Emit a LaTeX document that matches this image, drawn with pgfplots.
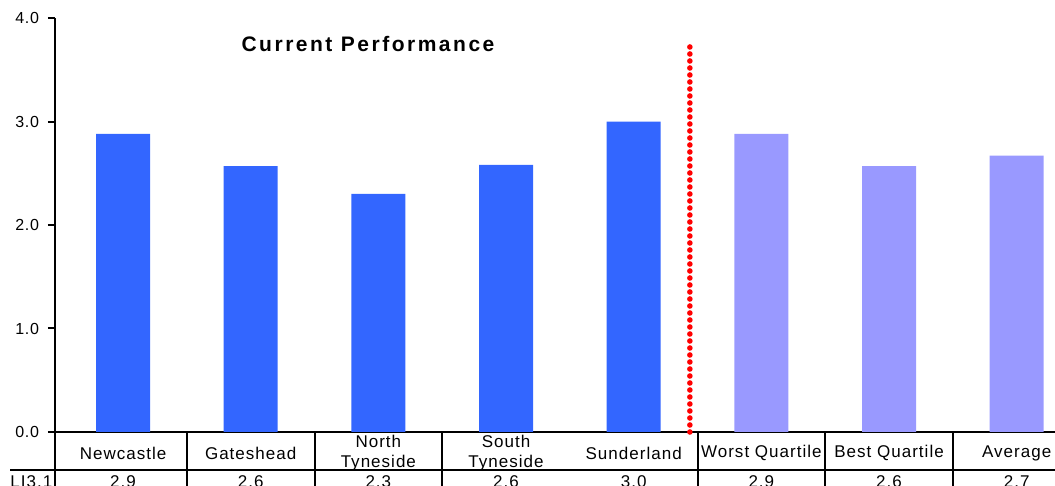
\documentclass[border=0pt]{standalone}
\usepackage{fontspec}
\setmainfont{Liberation Sans}
\usepackage{pgfplots}
\pgfplotsset{compat=1.18}
\definecolor{barblue}{HTML}{3366FF}
\definecolor{barlight}{HTML}{9999FF}
\newcommand{\tabfont}{\fontsize{8.5}{10}\selectfont\addfontfeature{LetterSpace=6}}
\begin{document}
\begin{tikzpicture}
\begin{axis}[
  at={(27.5pt,27pt)}, anchor=south west,
  scale only axis, width=500pt, height=207pt,
  xmin=-0.533, xmax=7.30, ymin=0, ymax=4,
  axis x line=bottom, axis y line=left,
  axis line style={line width=1pt, -},
  clip=false,
  ytick={0,1,2,3,4},
  yticklabel style={font=\fontsize{8}{9}\selectfont\addfontfeature{LetterSpace=4}, xshift=-1pt,
    /pgf/number format/fixed, /pgf/number format/fixed zerofill,
    /pgf/number format/precision=1, /pgf/number format/assume math mode=true},
  tick align=outside, major tick length=3.5pt,
  y tick style={line width=1pt, black},
  xtick={0,1,2,3,4,5,6,7},
  x tick style={draw=none},
  xticklabels={Newcastle, Gateshead, {North\\Tyneside}, {South\\Tyneside}, Sunderland, {Worst Quartile}, {Best Quartile}, Average},
  xticklabel style={anchor=center, yshift=-7pt, align=center, font=\tabfont},
]
\addplot[ybar, bar width=27pt, bar shift=0pt, fill=barblue, draw=none] coordinates {
  (0,2.88) (1,2.57) (2,2.30) (3,2.58) (4,3.00)
};
\addplot[ybar, bar width=27pt, bar shift=0pt, fill=barlight, draw=none] coordinates {
  (5,2.88) (6,2.57) (7,2.67)
};
\addplot[forget plot, draw=none, mark=none, nodes near coords, point meta=explicit symbolic,
  every node near coord/.append style={anchor=base, yshift=-28pt, font=\tabfont, inner sep=0pt}]
  coordinates {
  (0,0) [2.9] (1,0) [2.6] (2,0) [2.3] (3,0) [2.6] (4,0) [3.0] (5,0) [2.9] (6,0) [2.6] (7,0) [2.7]
};
\addplot[forget plot, red, line width=2.8pt, dash pattern=on 0pt off 3.5pt, line cap=round] coordinates {
  (4.44,0) (4.44,3.73)
};
% table grid
\draw[line width=1pt] (axis cs:-0.533,0) -- ++(0pt,-32pt);
\draw[line width=1pt] (axis cs:0.5,0) -- ++(0pt,-32pt);
\draw[line width=1pt] (axis cs:1.5,0) -- ++(0pt,-32pt);
\draw[line width=1pt] (axis cs:2.5,0) -- ++(0pt,-32pt);
\draw[line width=1pt] (axis cs:4.5,0) -- ++(0pt,-32pt);
\draw[line width=1pt] (axis cs:5.5,0) -- ++(0pt,-32pt);
\draw[line width=1pt] (axis cs:6.5,0) -- ++(0pt,-32pt);
\end{axis}
\draw[line width=1pt] (5pt,8pt) -- (530pt,8pt);
\node[anchor=base west, inner sep=0pt, font=\tabfont] at (5pt,-1pt) {LI3.1};
\node[font=\bfseries\fontsize{10.5}{12}\selectfont\addfontfeature{LetterSpace=12}] at (184pt,221pt) {Current Performance};
\pgfresetboundingbox
\useasboundingbox (0,0) rectangle (527.5pt,243pt);
\end{tikzpicture}
\end{document}
